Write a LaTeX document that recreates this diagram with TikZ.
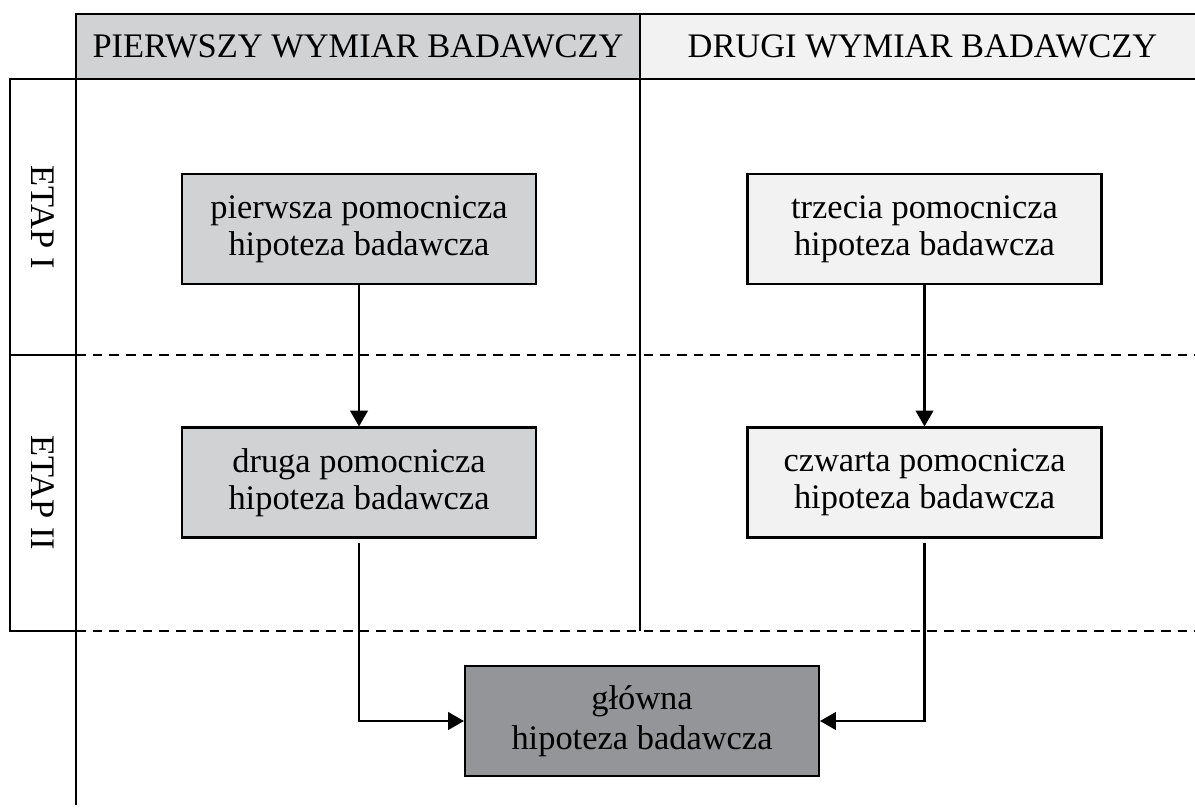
\documentclass[tikz,border=0pt]{standalone}
\usepackage{fontspec}
\setmainfont{Liberation Serif}
\usepackage{xcolor}
\usepackage{tikz}
\usetikzlibrary{positioning,calc,arrows.meta}

\definecolor{szaryA}{HTML}{D1D2D4}
\definecolor{szaryB}{HTML}{F2F2F2}
\definecolor{szaryC}{HTML}{939598}

\tikzset{
    hipo/.style={draw, line width=1.2pt, minimum width=7.08cm, minimum height=2.2cm, align=center, inner sep=0pt, font=\fontsize{19.6}{21}\selectfont},
    naglowek/.style={draw, line width=1.3pt, minimum height=1.3cm, inner sep=0pt, font=\fontsize{19.6}{20.5}\selectfont},
    etap/.style={draw, line width=1.3pt, rotate=-90, minimum width=5.52cm, minimum height=1.32cm, inner sep=0pt, font=\fontsize{19.6}{20.5}\selectfont},
    strzalka/.style={line width=1.2pt, -{Triangle[length=9pt, width=10pt]}},
    linia/.style={line width=1.3pt},
    przerywana/.style={line width=1.2pt, dash pattern=on 5.5pt off 4pt}
}

\begin{document}
\begin{tikzpicture}[x=0.02cm, y=-0.02cm]
    \useasboundingbox (0,0) rectangle (1195,809);

    % Naglowki wymiarow
    \node[naglowek, fill=szaryA, minimum width=11.28cm] (wym1) at (358,46.5) {PIERWSZY WYMIAR BADAWCZY};
    \node[naglowek, fill=szaryB, minimum width=11.3cm] (wym2) at (922.5,46.5) {DRUGI WYMIAR BADAWCZY};

    % Etapy
    \node[etap] (etap1) at (43,217) {ETAP I};
    \node[etap] (etap2) at (43,493) {ETAP II};

    % Linie siatki
    \draw[linia] (76,14) -- (76,805);
    \draw[linia] (640,79) -- (640,631);
    \draw[przerywana] (76,355) -- (1200,355);
    \draw[przerywana] (76,631) -- (1200,631);

    % Hipotezy
    \node[hipo, fill=szaryA] (hip1) at (359,229) {pierwsza pomocnicza\\hipoteza badawcza};
    \node[hipo, fill=szaryB] (hip3) at (924.5,229) {trzecia pomocnicza\\hipoteza badawcza};
    \node[hipo, fill=szaryA] (hip2) at (359,482.5) {druga pomocnicza\\hipoteza badawcza};
    \node[hipo, fill=szaryB] (hip4) at (924.5,482.5) {czwarta pomocnicza\\hipoteza badawcza};
    \node[hipo, fill=szaryC, font=\fontsize{19.6}{23}\selectfont] (glowna) at (642,721) {g\l{}ówna\\hipoteza badawcza};

    % Strzalki
    \draw[strzalka] (hip1) -- (hip2);
    \draw[strzalka] (hip3) -- (hip4);
    \draw[strzalka, shorten <=2.5pt] (hip2.south) |- (glowna.west);
    \draw[strzalka, shorten <=2.5pt] (hip4.south) |- (glowna.east);
\end{tikzpicture}
\end{document}
